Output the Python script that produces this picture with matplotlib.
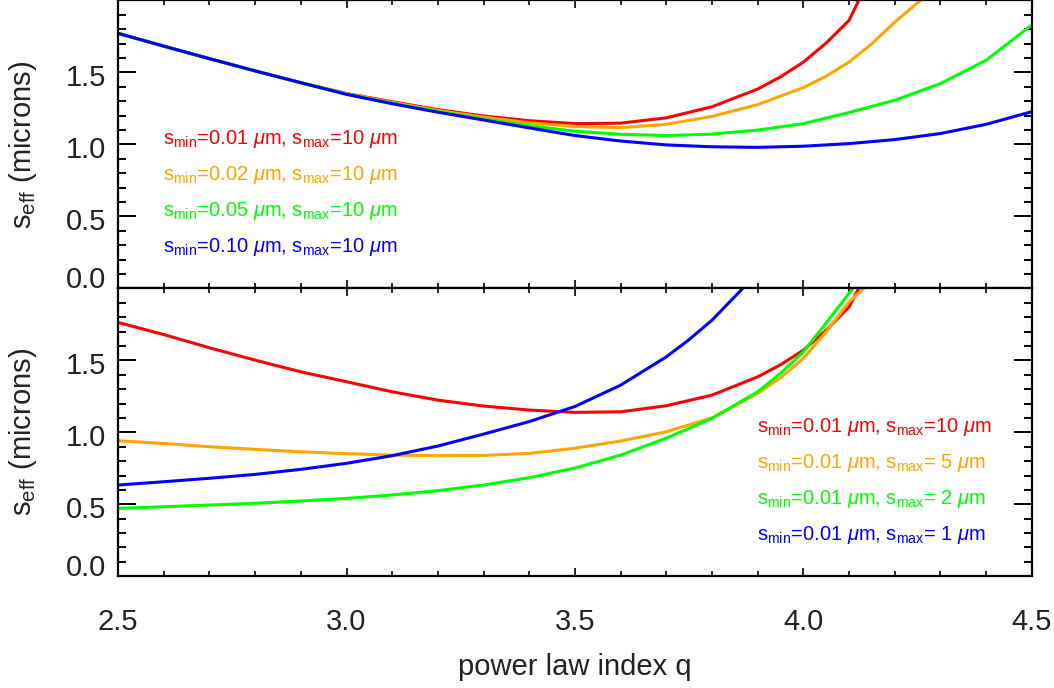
import matplotlib
matplotlib.use("Agg")
import matplotlib.pyplot as plt
import matplotlib.transforms as mtransforms
from matplotlib.ticker import MultipleLocator, FixedLocator

plt.rcParams['font.family'] = ['Liberation Sans', 'DejaVu Sans']
plt.rcParams['mathtext.fontset'] = 'custom'
plt.rcParams['mathtext.rm'] = 'Liberation Sans'
plt.rcParams['mathtext.it'] = 'Liberation Sans:italic'
plt.rcParams['mathtext.default'] = 'regular'

# --- data ---
colors = ['#ff0000', '#ffa500', '#00ff00', '#0000ff']

# top panel: smax = 10 um, varying smin
q_top_red = [2.5, 2.6, 2.7, 2.8, 2.9, 3.0, 3.1, 3.2, 3.3, 3.4, 3.5, 3.6, 3.7, 3.8, 3.9, 3.95, 4.0, 4.05,
             4.1, 4.121]
top_red = [1.772, 1.683, 1.596, 1.511, 1.429, 1.354, 1.297, 1.242, 1.198, 1.165, 1.145, 1.148, 1.185,
           1.262, 1.385, 1.47, 1.572, 1.705, 1.862, 2.0]
q_top_orange = [2.5, 2.6, 2.7, 2.8, 2.9, 3.0, 3.1, 3.2, 3.3, 3.4, 3.5, 3.6, 3.7, 3.8, 3.9, 4.0, 4.05,
                4.1, 4.15, 4.2, 4.256]
top_orange = [1.772, 1.683, 1.596, 1.511, 1.429, 1.352, 1.292, 1.236, 1.19, 1.15, 1.125, 1.117, 1.14,
              1.195, 1.277, 1.395, 1.475, 1.572, 1.70, 1.85, 2.0]
q_top_green = [2.5, 2.6, 2.7, 2.8, 2.9, 3.0, 3.1, 3.2, 3.3, 3.4, 3.5, 3.6, 3.7, 3.8, 3.9, 4.0, 4.1, 4.2,
               4.3, 4.4, 4.5]
top_green = [1.772, 1.683, 1.596, 1.511, 1.429, 1.35, 1.288, 1.23, 1.178, 1.13, 1.092, 1.071, 1.062,
             1.072, 1.1, 1.145, 1.222, 1.307, 1.423, 1.585, 1.83]
q_top_blue = q_top_green
top_blue = [1.772, 1.683, 1.596, 1.511, 1.429, 1.348, 1.283, 1.224, 1.17, 1.115, 1.062, 1.024, 0.997,
            0.984, 0.98, 0.988, 1.006, 1.034, 1.076, 1.14, 1.228]

# bottom panel: smin = 0.01 um, varying smax
q_bot_red = q_top_red
bot_red = [1.764, 1.68, 1.588, 1.502, 1.421, 1.352, 1.282, 1.224, 1.183, 1.155, 1.139, 1.143, 1.185,
           1.259, 1.386, 1.47, 1.571, 1.71, 1.872, 2.0]
q_bot_orange = [2.5, 2.6, 2.7, 2.8, 2.9, 3.0, 3.1, 3.2, 3.3, 3.4, 3.5, 3.6, 3.7, 3.8, 3.9, 3.95, 4.0,
                4.05, 4.1, 4.132]
bot_orange = [0.942, 0.923, 0.90, 0.882, 0.865, 0.852, 0.842, 0.838, 0.84, 0.854, 0.89, 0.94, 1.004,
              1.101, 1.271, 1.38, 1.514, 1.70, 1.907, 2.0]
q_bot_green = [2.5, 2.6, 2.7, 2.8, 2.9, 3.0, 3.1, 3.2, 3.3, 3.4, 3.5, 3.6, 3.7, 3.8, 3.9, 3.95, 4.0,
               4.05, 4.108]
bot_green = [0.472, 0.483, 0.495, 0.507, 0.523, 0.541, 0.565, 0.595, 0.634, 0.685, 0.752, 0.842, 0.96,
             1.097, 1.282, 1.41, 1.56, 1.76, 2.0]
q_bot_blue = [2.5, 2.6, 2.7, 2.8, 2.9, 3.0, 3.1, 3.2, 3.3, 3.4, 3.5, 3.6, 3.7, 3.75, 3.8, 3.867]
bot_blue = [0.634, 0.657, 0.681, 0.708, 0.743, 0.785, 0.838, 0.905, 0.988, 1.075, 1.18, 1.328, 1.525,
            1.645, 1.78, 2.0]

smin_top = ['0.01', '0.02', '0.05', '0.10']
smax_top = ['10', '10', '10', '10']
smin_bot = ['0.01', '0.01', '0.01', '0.01']
smax_bot = ['10', ' 5', ' 2', ' 1']

xticks = [2.5, 3.0, 3.5, 4.0, 4.5]
yticks = [0.0, 0.5, 1.0, 1.5]


def label_text(smin, smax):
    return (r'$s_{min}$=' + smin + r' $\mathit{\mu}$m, $s_{max}$=' + smax + r' $\mathit{\mu}$m')


def style_axis(ax):
    ax.set_xlim(2.5, 4.5)
    ax.set_ylim(0.0, 2.0)
    ax.xaxis.set_major_locator(FixedLocator(xticks))
    ax.xaxis.set_minor_locator(MultipleLocator(0.1))
    ax.yaxis.set_major_locator(FixedLocator(yticks))
    ax.yaxis.set_minor_locator(MultipleLocator(0.1))
    ax.yaxis.set_major_formatter(plt.FormatStrFormatter('%.1f'))
    ax.xaxis.set_major_formatter(plt.FormatStrFormatter('%.1f'))
    ax.tick_params(which='both', direction='in', top=True, right=True, colors='black',
                   labelsize=21, labelcolor='#222222')
    ax.tick_params(axis='y', which='major', length=13, width=1.4, pad=8.5)
    ax.tick_params(axis='y', which='minor', length=6, width=1.4)
    ax.tick_params(axis='x', which='major', length=6, width=1.2, pad=23)
    ax.tick_params(axis='x', which='minor', length=3.5, width=1.2)
    for sp in ax.spines.values():
        sp.set_linewidth(1.6)
    ax.set_ylabel(r'$s_{eff}$ (microns)', fontsize=21, color='#222222')
    ax.yaxis.set_label_coords(-0.087, 0.5)


fig = plt.figure(figsize=(10.54, 6.88), dpi=100)
ax_top = fig.add_axes([0.112, 0.5807, 0.867, 0.4186])
ax_bot = fig.add_axes([0.112, 0.1624, 0.867, 0.4183])

lw = 2.2
ax_top.plot(q_top_red, top_red, color=colors[0], lw=lw)
ax_top.plot(q_top_orange, top_orange, color=colors[1], lw=lw)
ax_top.plot(q_top_green, top_green, color=colors[2], lw=lw)
ax_top.plot(q_top_blue, top_blue, color=colors[3], lw=lw)

ax_bot.plot(q_bot_red, bot_red, color=colors[0], lw=lw)
ax_bot.plot(q_bot_orange, bot_orange, color=colors[1], lw=lw)
ax_bot.plot(q_bot_green, bot_green, color=colors[2], lw=lw)
ax_bot.plot(q_bot_blue, bot_blue, color=colors[3], lw=lw)

for ax in (ax_top, ax_bot):
    style_axis(ax)
ax_top.tick_params(axis='x', labelbottom=False)
ax_bot.set_xlabel('power law index q', fontsize=21, color='#222222', labelpad=12)

for i in range(4):
    ax_top.text(2.598, 1.0 - 0.25 * i, label_text(smin_top[i], smax_top[i]), color=colors[i],
                fontsize=14.5, va='baseline', ha='left')
    ax_bot.text(3.898, 1.0 - 0.25 * i, label_text(smin_bot[i], smax_bot[i]), color=colors[i],
                fontsize=14.5, va='baseline', ha='left')

# nudge the y tick labels like the original (0.0 lifted off the panel edge)
for ax in (ax_top, ax_bot):
    ticks = ax.yaxis.get_major_ticks()
    for k, t in enumerate(ticks[:4]):
        dy = 11 if k == 0 else -3
        off = mtransforms.ScaledTranslation(0, dy / 100, fig.dpi_scale_trans)
        t.label1.set_transform(t.label1.get_transform() + off)

fig.savefig('out.png', dpi=100)
